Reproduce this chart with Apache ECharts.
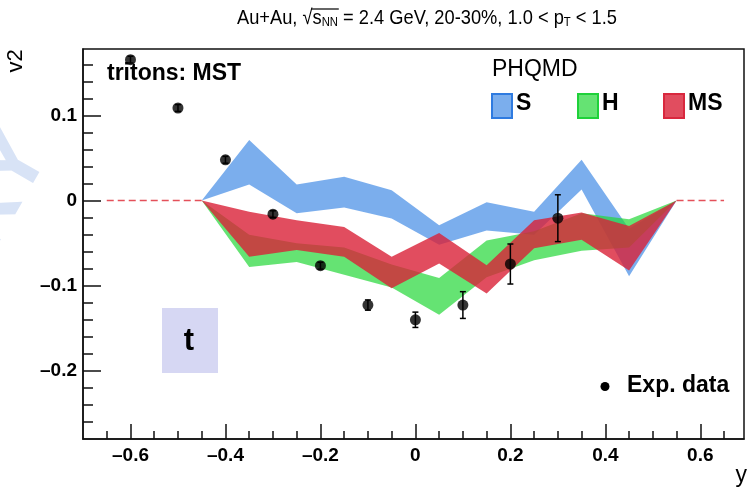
<!DOCTYPE html>
<html><head><meta charset="utf-8">
<script src="https://cdn.jsdelivr.net/npm/echarts@6/dist/echarts.min.js"></script>
<style>html,body{margin:0;padding:0;background:#fff}#c{width:753px;height:487px}</style>
</head><body><div id="c"></div>
<script>
// ---- data ----
const rapidityBins = [-0.45, -0.35, -0.25, -0.15, -0.05, 0.05, 0.15, 0.25, 0.35, 0.45, 0.55];
const sLow   = [0,  0.019, -0.015, -0.008, -0.021, -0.052, -0.035, -0.040,  0.013, -0.089, 0];
const sHigh  = [0,  0.071,  0.019,  0.028,  0.012, -0.029, -0.002, -0.013,  0.048, -0.033, 0];
const hLow   = [0, -0.078, -0.072, -0.087, -0.102, -0.134, -0.090, -0.070, -0.059, -0.055, 0];
const hHigh  = [0, -0.040, -0.050, -0.055, -0.075, -0.091, -0.047, -0.036, -0.015, -0.022, 0];
const msLow  = [0, -0.066, -0.058, -0.066, -0.103, -0.074, -0.109, -0.056, -0.046, -0.082, 0];
const msHigh = [0, -0.013, -0.023, -0.031, -0.066, -0.038, -0.076, -0.023, -0.014, -0.030, 0];
const expY   = [-0.6, -0.5, -0.4, -0.3, -0.2, -0.1, 0, 0.1, 0.2, 0.3];
const expV2  = [0.1655, 0.1087, 0.0479, -0.016, -0.0765, -0.1227, -0.140, -0.1227, -0.0745, -0.0207];
const expErr = [0.004, 0.004, 0.004, 0.004, 0.004, 0.006, 0.009, 0.0157, 0.0235, 0.0275];
const zeroLineLeftX  = [-0.65, -0.45];
const zeroLineRightX = [0.55, 0.65];
const xMajorTicks = [-0.6, -0.4, -0.2, 0, 0.2, 0.4, 0.6];
const yMajorTicks = [-0.2, -0.1, 0, 0.1];
const bandNames = ['S', 'H', 'MS'];

// ---- helpers ----
const xMinorTicks = [];
for (let i = -13; i <= 13; i++) xMinorTicks.push(+(i * 0.05).toFixed(2));
const yMinorTicks = [];
for (let i = -13; i <= 8; i++) yMinorTicks.push(+(i * 0.02).toFixed(2));
const fmt = v => { if (Math.abs(v) < 1e-9) return '0'; const s = Math.abs(v).toFixed(1); return v < 0 ? '\u2013' + s : s; };

const XMIN = -0.7, XMAX = 0.692, YMIN = -0.28, YMAX = 0.178;
const LBL = { fontFamily: 'Liberation Sans, Arial, sans-serif', fontWeight: 'bold', fontSize: 19, color: '#000' };
const FONT = '"Liberation Sans", Arial, sans-serif';

function bandSeries(name, lo, hi, fill) {
  return {
    name, type: 'custom', xAxisIndex: 0, yAxisIndex: 0, silent: true,
    data: rapidityBins.map((x, i) => [x, lo[i], hi[i]]),
    encode: { x: 0, y: [1, 2] },
    renderItem: function (params, api) {
      if (params.dataIndex !== 0) return null;
      const pts = [];
      for (let i = 0; i < rapidityBins.length; i++) pts.push(api.coord([rapidityBins[i], hi[i]]));
      for (let i = rapidityBins.length - 1; i >= 0; i--) pts.push(api.coord([rapidityBins[i], lo[i]]));
      return { type: 'polygon', shape: { points: pts }, style: { fill: fill } };
    }
  };
}

const chart = echarts.init(document.getElementById('c'), null, { renderer: 'canvas' });
const option = {
  animation: false,
  backgroundColor: '#fff',
  grid: { left: 83, right: 9, top: 49, bottom: 48, show: true, borderColor: '#111', borderWidth: 1.5, backgroundColor: 'transparent' },
  xAxis: [
    { type: 'value', min: XMIN, max: XMAX, position: 'bottom',
      axisLine: { show: true, onZero: false, lineStyle: { color: '#111', width: 1.5 } },
      splitLine: { show: false },
      axisTick: { show: true, inside: true, length: 15, customValues: xMajorTicks, lineStyle: { color: '#111', width: 1.5 } },
      axisLabel: Object.assign({ show: true, margin: 7, customValues: xMajorTicks, formatter: fmt }, LBL) },
    { type: 'value', min: XMIN, max: XMAX, position: 'bottom',
      axisLine: { show: false, onZero: false }, splitLine: { show: false },
      axisTick: { show: true, inside: true, length: 8, customValues: xMinorTicks, lineStyle: { color: '#111', width: 1.5 } },
      axisLabel: { show: false } }
  ],
  yAxis: [
    { type: 'value', min: YMIN, max: YMAX, position: 'left',
      axisLine: { show: true, onZero: false, lineStyle: { color: '#111', width: 1.5 } },
      splitLine: { show: false },
      axisTick: { show: true, inside: true, length: 18, customValues: yMajorTicks, lineStyle: { color: '#111', width: 1.5 } },
      axisLabel: Object.assign({ show: true, margin: 6, customValues: yMajorTicks, formatter: fmt }, LBL) },
    { type: 'value', min: YMIN, max: YMAX, position: 'left',
      axisLine: { show: false, onZero: false }, splitLine: { show: false },
      axisTick: { show: true, inside: true, length: 10, customValues: yMinorTicks, lineStyle: { color: '#111', width: 1.5 } },
      axisLabel: { show: false } }
  ],
  series: [
    bandSeries('S', sLow, sHigh, 'rgba(60,135,228,0.68)'),
    bandSeries('H', hLow, hHigh, 'rgba(35,215,55,0.70)'),
    bandSeries('MS', msLow, msHigh, 'rgba(218,32,55,0.80)'),
    { type: 'line', silent: true, symbol: 'none', data: zeroLineLeftX.map(x => [x, 0]),
      lineStyle: { color: '#e4505a', width: 1.5, type: [7, 4] } },
    { type: 'line', silent: true, symbol: 'none', data: zeroLineRightX.map(x => [x, 0]),
      lineStyle: { color: '#e4505a', width: 1.5, type: [7, 4] } },
    { name: 'Exp. data', type: 'custom', silent: true,
      data: expY.map((x, i) => [x, expV2[i], expErr[i]]),
      encode: { x: 0, y: 1 },
      renderItem: function (params, api) {
        const x = api.value(0), y = api.value(1), e = api.value(2);
        const top = api.coord([x, y + e]), bot = api.coord([x, y - e]);
        const st = { stroke: '#000', lineWidth: 1.5 };
        return { type: 'group', children: [
          { type: 'line', shape: { x1: top[0], y1: top[1], x2: bot[0], y2: bot[1] }, style: st },
          { type: 'line', shape: { x1: top[0] - 3, y1: top[1], x2: top[0] + 3, y2: top[1] }, style: st },
          { type: 'line', shape: { x1: bot[0] - 3, y1: bot[1], x2: bot[0] + 3, y2: bot[1] }, style: st }
        ] };
      } },
    { name: 'Exp. data', type: 'scatter', silent: true, symbol: 'circle', symbolSize: 11,
      itemStyle: { color: '#000' }, data: expY.map((x, i) => [x, expV2[i]]), z: 5 }
  ],
  graphic: [
    { type: 'text', z: -10, x: 68, y: 162, rotation: Math.PI / 3,
      style: { text: 'PRELIMINARY', font: 'bold 88px ' + FONT, fill: '#d8e3f6', textAlign: 'right', textVerticalAlign: 'bottom' } },
    { type: 'group', x: 237, y: 5, scaleX: 0.87, children: [
      { type: 'text', x: 0, y: 0, style: {
        text: '{n|Au+Au, \u221A}{s|s}{b|NN}{n| = 2.4 GeV, 20-30%, 1.0 < p}{b|T}{n| < 1.5}',
        rich: {
          n: { fontFamily: 'Liberation Sans, Arial', fontSize: 21, fill: '#000', verticalAlign: 'bottom', lineHeight: 24 },
          s: { fontFamily: 'Liberation Sans, Arial', fontSize: 21, fill: '#000', verticalAlign: 'bottom', lineHeight: 24 },
          b: { fontFamily: 'Liberation Sans, Arial', fontSize: 13, fill: '#000', verticalAlign: 'bottom', lineHeight: 20 }
        } } },
      { type: 'line', shape: { x1: 86, y1: 4, x2: 117, y2: 4 }, style: { stroke: '#000', lineWidth: 1.2 } }
    ] },
    { type: 'text', x: 16, y: 61, rotation: Math.PI / 2,
      style: { text: 'v2', font: '22px ' + FONT, fill: '#000', textAlign: 'center', textVerticalAlign: 'middle' } },
    { type: 'text', x: 747, y: 476, style: { text: 'y', font: '23px ' + FONT, fill: '#000', textAlign: 'right', textVerticalAlign: 'middle' } },
    { type: 'text', x: 107, y: 74, style: { text: 'tritons: MST', font: 'bold 23px ' + FONT, fill: '#000', textVerticalAlign: 'middle' } },
    { type: 'text', x: 492, y: 70, style: { text: 'PHQMD', font: '23px ' + FONT, fill: '#000', textVerticalAlign: 'middle' } },
    { type: 'rect', shape: { x: 492, y: 94, width: 20, height: 24 }, style: { fill: 'rgba(60,135,228,0.68)', stroke: '#2f7be0', lineWidth: 2 } },
    { type: 'text', x: 516, y: 104, style: { text: bandNames[0], font: 'bold 23px ' + FONT, fill: '#000', textVerticalAlign: 'middle' } },
    { type: 'rect', shape: { x: 578, y: 94, width: 20, height: 24 }, style: { fill: 'rgba(35,215,55,0.70)', stroke: '#1fd13a', lineWidth: 2 } },
    { type: 'text', x: 602, y: 104, style: { text: bandNames[1], font: 'bold 23px ' + FONT, fill: '#000', textVerticalAlign: 'middle' } },
    { type: 'rect', shape: { x: 664, y: 94, width: 20, height: 24 }, style: { fill: 'rgba(218,32,55,0.80)', stroke: '#d9283e', lineWidth: 2 } },
    { type: 'text', x: 688, y: 104, style: { text: bandNames[2], font: 'bold 23px ' + FONT, fill: '#000', textVerticalAlign: 'middle' } },
    { type: 'rect', shape: { x: 162, y: 308, width: 56, height: 65 }, style: { fill: '#d6d7f3' } },
    { type: 'text', x: 189, y: 341, style: { text: 't', font: 'bold 31px ' + FONT, fill: '#000', textAlign: 'center', textVerticalAlign: 'middle' } },
    { type: 'circle', shape: { cx: 605, cy: 386.5, r: 4.5 }, style: { fill: '#000' } },
    { type: 'text', x: 627, y: 386, style: { text: 'Exp. data', font: 'bold 23px ' + FONT, fill: '#000', textVerticalAlign: 'middle' } }
  ]
};
chart.setOption(option);
</script></body></html>
